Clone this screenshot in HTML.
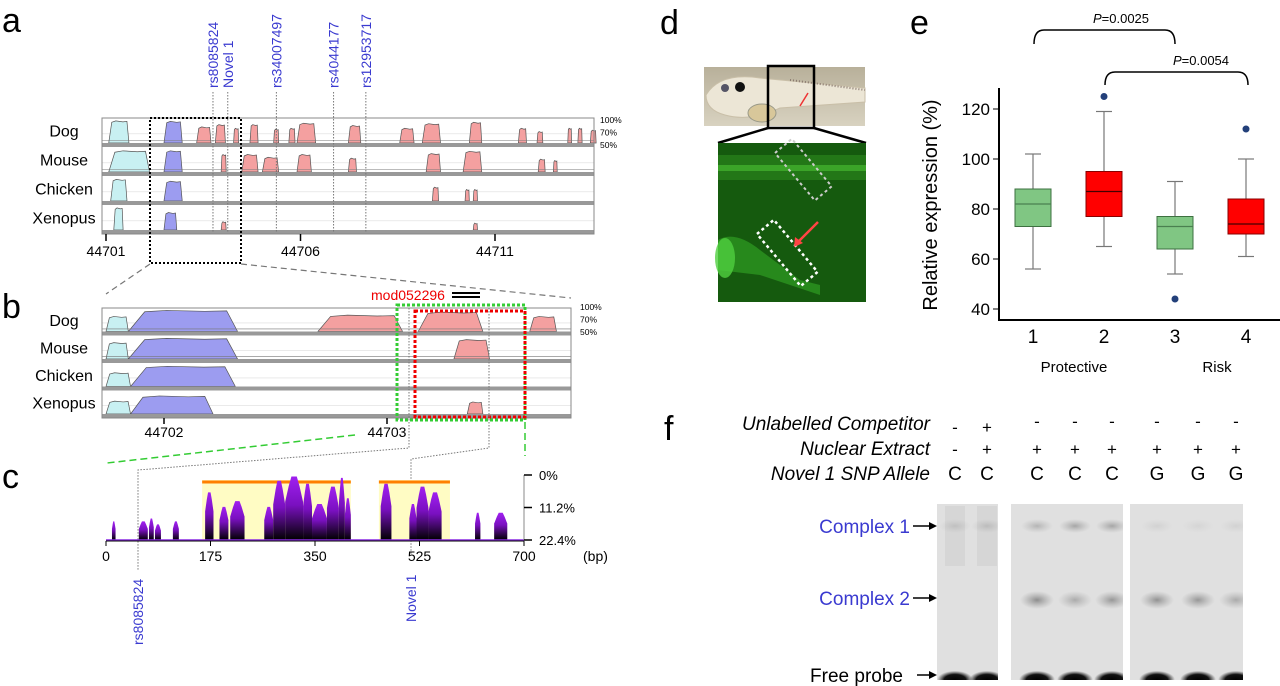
<!DOCTYPE html>
<html><head><meta charset="utf-8"><style>
html,body{margin:0;padding:0;background:#fff;width:1280px;height:686px;overflow:hidden}
svg{display:block;font-family:"Liberation Sans",Arial,sans-serif}
</style></head><body>
<svg id="fig" width="1280" height="686" viewBox="0 0 1280 686" xmlns="http://www.w3.org/2000/svg">
<defs>
<linearGradient id="pg" x1="0" y1="0" x2="0" y2="1"><stop offset="0" stop-color="#a020f0"/><stop offset="0.45" stop-color="#7a10c0"/><stop offset="1" stop-color="#000"/></linearGradient>
<radialGradient id="band" cx="0.5" cy="0.5" r="0.5"><stop offset="0" stop-color="#666" stop-opacity="0.8"/><stop offset="1" stop-color="#888" stop-opacity="0"/></radialGradient>
<radialGradient id="probe" cx="0.5" cy="0.6" r="0.5"><stop offset="0" stop-color="#000"/><stop offset="0.6" stop-color="#111"/><stop offset="1" stop-color="#333" stop-opacity="0"/></radialGradient>
<linearGradient id="fishbg" x1="0" y1="0" x2="0" y2="1"><stop offset="0" stop-color="#b8b09a"/><stop offset="1" stop-color="#d8d2c0"/></linearGradient>
<clipPath id="gelclip"><rect x="937" y="504" width="61" height="176"/><rect x="1011" y="504" width="112" height="176"/><rect x="1130" y="504" width="113" height="176"/></clipPath>
</defs>
<g id="panelA"></g>
<g id="panelB"></g>
<g id="panelC"></g>
<g id="panelD"></g>
<g id="panelE"></g>
<g id="panelF"></g>
</svg>
<script>
// ---------- DATA ----------
var rowNames = ["Dog","Mouse","Chicken","Xenopus"];
// panel a peaks: [startKb, endKb, pct, type]  type c=cyan b=blue p=pink
var aDog = [[44701.07,44701.59,98,"c"],[44702.49,44702.96,97,"b"],[44703.33,44703.70,85,"p"],[44703.81,44704.07,90,"p"],[44704.28,44704.41,82,"p"],[44704.70,44704.91,90,"p"],[44705.31,44705.44,80,"p"],[44705.70,44705.86,82,"p"],[44705.91,44706.39,93,"p"],[44707.23,44707.55,88,"p"],[44708.55,44708.92,82,"p"],[44709.13,44709.60,92,"p"],[44710.34,44710.66,95,"p"],[44711.60,44711.81,82,"p"],[44712.08,44712.23,75,"p"],[44712.87,44712.97,82,"p"],[44713.13,44713.24,82,"p"],[44713.45,44713.60,78,"p"]];
var aMouse = [[44701.07,44702.12,96,"c"],[44702.49,44702.96,96,"b"],[44703.96,44704.09,88,"p"],[44704.49,44704.91,88,"p"],[44705.02,44705.44,82,"p"],[44705.91,44706.28,88,"p"],[44707.23,44707.44,80,"p"],[44709.23,44709.60,90,"p"],[44710.18,44710.66,95,"p"],[44712.11,44712.29,78,"p"],[44712.50,44712.60,75,"p"]];
var aChicken = [[44701.12,44701.54,97,"c"],[44702.49,44702.96,93,"b"],[44709.39,44709.55,80,"p"],[44710.23,44710.34,75,"p"],[44710.44,44710.55,75,"p"]];
var aXenopus = [[44701.20,44701.44,98,"c"],[44702.49,44702.82,88,"b"],[44703.96,44704.09,68,"p"],[44710.44,44710.55,65,"p"]];
var aTicks = [44701,44706,44711];
var snpNames = ["rs8085824","Novel 1","rs34007497","rs4044177","rs12953717"];
var snpKb = [44703.75,44704.13,44705.38,44706.85,44707.68];
// panel b
var bDog = [[44701.74,44701.84,85,"c"],[44701.84,44702.33,99,"b"],[44702.69,44703.07,88,"p"],[44703.14,44703.43,95,"p"],[44703.64,44703.76,85,"p"]];
var bMouse = [[44701.74,44701.84,88,"c"],[44701.84,44702.33,98,"b"],[44703.30,44703.46,95,"p"]];
var bChicken = [[44701.74,44701.85,82,"c"],[44701.85,44702.32,97,"b"]];
var bXenopus = [[44701.74,44701.85,80,"c"],[44701.85,44702.22,92,"b"],[44703.36,44703.43,78,"p"]];
var bTicks = [44702,44703];
// panel c: [startBp, endBp, value%]  (0% top, 22.4% baseline)
var cPeaks = [[10,16,16],[55,70,16],[72,80,15],[82,92,17],[112,122,16],[166,180,6],[190,205,11],[208,232,9],[265,280,11],[280,300,2],[300,330,0.5],[330,345,3],[345,370,10],[370,390,4],[390,400,1],[400,410,8],[460,478,3],[508,520,10],[520,540,4],[540,562,6],[618,627,13],[650,672,13]];
var cYellow = [[161,410],[457,576]];
var cTicks = [0,175,350,525,700];
var cPctTicks = ["0%","11.2%","22.4%"];
// panel e box plot
var eCats = ["1","2","3","4"];
var eMin = [56,65,54,61];
var eQ1 = [73,77,64,70];
var eMed = [82,87,73,74];
var eQ3 = [88,95,77,84];
var eMax = [102,119,91,100];
var eOut = [null,125,44,112];
var eTicks = [40,60,80,100,120];
// panel f
var fComp = ["-","+","-","-","-","-","-","-"];
var fNuc = ["-","+","+","+","+","+","+","+"];
var fAllele = ["C","C","C","C","C","G","G","G"];
var fC1 = [0.25,0.3,0.45,0.6,0.6,0.15,0.12,0.15];
var fC2 = [0.0,0.0,0.85,0.55,0.75,0.8,0.75,0.55];

// ---------- helpers ----------
var NS="http://www.w3.org/2000/svg";
function mk(tag,attrs,parent,txt){var e=document.createElementNS(NS,tag);for(var k in attrs)e.setAttribute(k,attrs[k]);if(txt!==undefined)e.textContent=txt;parent.appendChild(e);return e;}
var colors={c:"#c8f0f2",b:"#9c9cf0",p:"#f4a0a0"};

function trackRows(g,rows,x0,x1,top,rowH,kbScale,kbData){
  for(var r=0;r<rows.length;r++){
    var yTop=top+r*rowH, yBase=yTop+rowH-4;
    var yp=function(p){return yBase-(p-50)/50*(rowH-6);};
    mk("line",{x1:x0,x2:x1,y1:yp(70),y2:yp(70),stroke:"#ddd","stroke-width":0.6},g);
    var dat=kbData[r];
    for(var i=0;i<dat.length;i++){
      var d=dat[i];var xa=kbScale(d[0]),xb=kbScale(d[1]);var w=xb-xa;
      var pts=[xa+","+yBase,(xa+w*0.15)+","+yp(d[2]-3),(xa+w*0.35)+","+yp(d[2]),(xa+w*0.7)+","+yp(d[2]-2),(xb-w*0.1)+","+yp(d[2]-1),xb+","+yBase];
      var pg=mk("polygon",{points:pts.join(" "),fill:colors[d[3]],stroke:"#555","stroke-width":0.7},g);
      
      
    }
    if(r<2){
      mk("line",{x1:x0,x2:x1,y1:yp(56),y2:yp(56),stroke:"#777","stroke-width":0.6},g);
    }
    var bar=mk("rect",{x:x0,y:yBase,width:x1-x0,height:4,fill:"#999"},g);
    
    
    var lb=mk("text",{x:x0-38,y:yTop+rowH/2+4,"font-size":16,"text-anchor":"middle",fill:"#000"},g,rows[r]);
    
    
  }
  mk("rect",{x:x0,y:top,width:x1-x0,height:rows.length*rowH,fill:"none",stroke:"#888","stroke-width":1},g);
}

// ---------- Panel A ----------
(function(){
var g=document.getElementById("panelA");
mk("text",{x:2,y:32,"font-size":34,fill:"#000"},g,"a");
var x0=102,x1=594,top=118,rowH=29;
var ka=function(k){return 106+(k-44701)*38.9;};
trackRows(g,rowNames,x0,x1,top,rowH,ka,[aDog,aMouse,aChicken,aXenopus]);
["100%","70%","50%"].forEach(function(t,i){mk("text",{x:600,y:123+i*12.5,"font-size":8.5,fill:"#000"},g,t);});
aTicks.forEach(function(t){mk("line",{x1:ka(t),x2:ka(t),y1:234,y2:241,stroke:"#000","stroke-width":1.5},g);
  var tx=mk("text",{x:ka(t),y:256,"font-size":14,"text-anchor":"middle"},g,String(t));
  });
for(var i=0;i<snpNames.length;i++){
  var x=ka(snpKb[i]);
  mk("line",{x1:x,x2:x,y1:92,y2:233,stroke:"#777","stroke-width":1,"stroke-dasharray":"1.5,1.5"},g);
  var t=mk("text",{x:0,y:0,transform:"translate("+(x+5)+",88) rotate(-90)","font-size":14,fill:"#3a3ad0"},g,snpNames[i]);
  
}
mk("rect",{x:150,y:118,width:91,height:145,fill:"none",stroke:"#000","stroke-width":2,"stroke-dasharray":"2,2"},g);
mk("line",{x1:150,y1:264,x2:106,y2:294,stroke:"#777","stroke-width":1.2,"stroke-dasharray":"6,4"},g);
mk("line",{x1:241,y1:264,x2:571,y2:298,stroke:"#777","stroke-width":1.2,"stroke-dasharray":"6,4"},g);
})();

// ---------- Panel B ----------
(function(){
var g=document.getElementById("panelB");
mk("text",{x:2,y:318,"font-size":34},g,"b");
var x0=102,x1=571,top=308,rowH=27.5;
var kb=function(k){return 164+(k-44702)*223;};
trackRows(g,rowNames,x0,x1,top,rowH,kb,[bDog,bMouse,bChicken,bXenopus]);
["100%","70%","50%"].forEach(function(t,i){mk("text",{x:580,y:310+i*12.5,"font-size":8.5},g,t);});
bTicks.forEach(function(t){mk("line",{x1:kb(t),x2:kb(t),y1:418,y2:424,stroke:"#000","stroke-width":1.5},g);
  var tx=mk("text",{x:kb(t),y:437,"font-size":14,"text-anchor":"middle"},g,String(t));
  });
mk("rect",{x:397,y:305,width:128,height:115,fill:"none",stroke:"#3c3","stroke-width":3,"stroke-dasharray":"3,2"},g);
mk("rect",{x:415,y:311,width:110,height:106,fill:"none",stroke:"#e00","stroke-width":3,"stroke-dasharray":"3,2"},g);
mk("text",{x:371,y:300,"font-size":14,fill:"#e00"},g,"mod052296");
mk("line",{x1:452,x2:480,y1:293,y2:293,stroke:"#000","stroke-width":2},g);
mk("line",{x1:452,x2:480,y1:297,y2:297,stroke:"#000","stroke-width":2},g);
mk("polyline",{points:"409,308 409,448 138,470 138,570",fill:"none",stroke:"#777","stroke-width":1,"stroke-dasharray":"1.5,1.5"},g);
mk("polyline",{points:"489,308 489,448 411,459 411,555",fill:"none",stroke:"#777","stroke-width":1,"stroke-dasharray":"1.5,1.5"},g);
mk("line",{x1:355,y1:435,x2:107,y2:463,stroke:"#3c3","stroke-width":1.5,"stroke-dasharray":"7,4"},g);
mk("line",{x1:525,y1:422,x2:525,y2:456,stroke:"#3c3","stroke-width":1.5,"stroke-dasharray":"7,4"},g);
})();

// ---------- Panel C ----------
(function(){
var g=document.getElementById("panelC");
mk("text",{x:2,y:488,"font-size":34},g,"c");
var xs=function(bp){return 106+bp*(418/700);};
var ys=function(v){return 475+v/22.4*65;};
cYellow.forEach(function(r){
  var y=mk("rect",{x:xs(r[0]),y:480,width:xs(r[1])-xs(r[0]),height:60,fill:"#fffcc4"},g);
  
  var o=mk("rect",{x:xs(r[0]),y:480.5,width:xs(r[1])-xs(r[0]),height:3,fill:"#ff8000"},g);
  
});
cPeaks.forEach(function(p){
  var xa=xs(p[0]),xb=xs(p[1]),w=xb-xa,yt=ys(p[2]);
  var pts=[xa+",540",xa+","+(yt+(540-yt)*0.4),(xa+w*0.2)+","+(yt+(540-yt)*0.15),(xa+w*0.35)+","+yt,(xb-w*0.35)+","+yt,(xb-w*0.2)+","+(yt+(540-yt)*0.15),xb+","+(yt+(540-yt)*0.4),xb+",540"];
  var pg=mk("polygon",{points:pts.join(" "),fill:"url(#pg)"},g);
  
});
mk("line",{x1:106,x2:524,y1:540,y2:540,stroke:"#8a2be2","stroke-width":1.5},g);
mk("line",{x1:106,x2:524,y1:541,y2:541,stroke:"#000","stroke-width":1},g);
cTicks.forEach(function(t){mk("line",{x1:xs(t),x2:xs(t),y1:541,y2:546,stroke:"#000"},g);
  var tx=mk("text",{x:xs(t),y:561,"font-size":14,"text-anchor":"middle"},g,String(t));
  });
mk("text",{x:583,y:561,"font-size":14},g,"(bp)");
mk("line",{x1:524,x2:524,y1:475,y2:540,stroke:"#888","stroke-width":1},g);
cPctTicks.forEach(function(t,i){var y=475+i*32.5;mk("line",{x1:524,x2:532,y1:y,y2:y,stroke:"#000","stroke-width":1.5},g);
  mk("text",{x:539,y:y+5,"font-size":13},g,t);});
var r1=mk("text",{x:0,y:0,transform:"translate(143,645) rotate(-90)","font-size":14,fill:"#3a3ad0"},g,"rs8085824");

var r2=mk("text",{x:0,y:0,transform:"translate(416,622) rotate(-90)","font-size":14,fill:"#3a3ad0"},g,"Novel 1");

})();

// ---------- Panel D ----------
(function(){
var g=document.getElementById("panelD");
mk("text",{x:660,y:34,"font-size":34},g,"d");
mk("rect",{x:704,y:67,width:161,height:59,fill:"url(#fishbg)"},g);
mk("path",{d:"M706,95 Q720,72 760,78 L865,88 L865,102 L780,108 Q750,122 725,115 Q706,110 706,95Z",fill:"#ece6d6",stroke:"#c9bfa8"},g);
mk("circle",{cx:740,cy:87,r:5,fill:"#111"},g);
mk("circle",{cx:725,cy:88,r:4,fill:"#556"},g);
mk("ellipse",{cx:762,cy:113,rx:14,ry:9,fill:"#d8c79a",stroke:"#998"},g);
mk("line",{x1:790,y1:80,x2:865,y2:90,stroke:"#8a7a70","stroke-width":2,"stroke-dasharray":"1,2"},g);
mk("rect",{x:768,y:66,width:46,height:62,fill:"none",stroke:"#000","stroke-width":2.5},g);
mk("line",{x1:808,y1:93,x2:800,y2:106,stroke:"#e33","stroke-width":1.5},g);
mk("polyline",{points:"768,128 718,143",fill:"none",stroke:"#000","stroke-width":2.5},g);
mk("polyline",{points:"814,128 866,143",fill:"none",stroke:"#000","stroke-width":2.5},g);
mk("rect",{x:718,y:143,width:148,height:159,fill:"#155a0e"},g);
mk("rect",{x:718,y:155,width:148,height:25,fill:"#2d8a1e",opacity:0.6},g);
mk("rect",{x:718,y:165,width:148,height:6,fill:"#46b830",opacity:0.7},g);
mk("path",{d:"M718,240 Q735,230 760,250 L800,280 L820,285 L820,295 L760,275 L718,270Z",fill:"#2e9a22",opacity:0.75},g);
mk("ellipse",{cx:725,cy:258,rx:10,ry:20,fill:"#50d040",opacity:0.8},g);
mk("rect",{x:0,y:0,width:22,height:62,transform:"translate(775,153) rotate(-40)",fill:"none",stroke:"#ccc","stroke-width":2,"stroke-dasharray":"3,3"},g);
mk("rect",{x:0,y:0,width:22,height:68,transform:"translate(757,234) rotate(-40)",fill:"none",stroke:"#fff","stroke-width":2.5,"stroke-dasharray":"3,3"},g);
mk("line",{x1:818,y1:222,x2:797,y2:243,stroke:"#f44","stroke-width":2.5},g);
mk("polygon",{points:"794,247 795,237 803,243",fill:"#f44"},g);
})();

// ---------- Panel E ----------
(function(){
var g=document.getElementById("panelE");
mk("text",{x:910,y:34,"font-size":34},g,"e");
var yv=function(v){return 309-(v-40)*2.5;};
var xc=function(i){return 1033+i*71;};
var bw=36;
mk("line",{x1:999,x2:999,y1:88,y2:321,stroke:"#000","stroke-width":2},g);
mk("line",{x1:999,x2:1280,y1:320,y2:320,stroke:"#000","stroke-width":2},g);
eTicks.forEach(function(t){mk("line",{x1:993,x2:999,y1:yv(t),y2:yv(t),stroke:"#000"},g);
  var tx=mk("text",{x:990,y:yv(t)+6,"font-size":17,"text-anchor":"end"},g,String(t));
  });
var yt=mk("text",{x:0,y:0,transform:"translate(937,205) rotate(-90)","font-size":20,"text-anchor":"middle"},g,"Relative expression (%)");

for(var i=0;i<eCats.length;i++){
  var x=xc(i),red=(i%2==1);
  var fill=red?"#ff0000":"#80c683",st=red?"#8a0000":"#3d7040";
  mk("line",{x1:x,x2:x,y1:yv(eMax[i]),y2:yv(eMin[i]),stroke:"#777","stroke-width":1.2},g);
  mk("line",{x1:x-8,x2:x+8,y1:yv(eMax[i]),y2:yv(eMax[i]),stroke:"#777","stroke-width":1.2},g);
  mk("line",{x1:x-8,x2:x+8,y1:yv(eMin[i]),y2:yv(eMin[i]),stroke:"#777","stroke-width":1.2},g);
  var b=mk("rect",{x:x-bw/2,y:yv(eQ3[i]),width:bw,height:yv(eQ1[i])-yv(eQ3[i]),fill:fill,stroke:st,"stroke-width":1},g);
  
  mk("line",{x1:x-bw/2,x2:x+bw/2,y1:yv(eMed[i]),y2:yv(eMed[i]),stroke:red?"#400":"#4a8050","stroke-width":1.3},g);
  if(eOut[i]!==null){var o=mk("circle",{cx:x,cy:yv(eOut[i]),r:3.5,fill:"#23407a"},g);
    }
  var lt=mk("text",{x:x,y:343,"font-size":19,"text-anchor":"middle"},g,eCats[i]);
  
}
mk("text",{x:1074,y:372,"font-size":15,"text-anchor":"middle"},g,"Protective");
mk("text",{x:1217,y:372,"font-size":15,"text-anchor":"middle"},g,"Risk");
mk("path",{d:"M1034,44 Q1034,30 1044,30 L1165,30 Q1175,30 1175,44",fill:"none",stroke:"#000","stroke-width":1.5},g);
mk("path",{d:"M1105,85 Q1105,72 1115,72 L1238,72 Q1248,72 1248,85",fill:"none",stroke:"#000","stroke-width":1.5},g);
var p1=mk("text",{x:1121,y:23,"font-size":13,"text-anchor":"middle"},g);
mk("tspan",{"font-style":"italic"},p1,"P");mk("tspan",{},p1,"=0.0025");
var p2=mk("text",{x:1201,y:65,"font-size":13,"text-anchor":"middle"},g);
mk("tspan",{"font-style":"italic"},p2,"P");mk("tspan",{},p2,"=0.0054");
})();

// ---------- Panel F ----------
(function(){
var g=document.getElementById("panelF");
mk("text",{x:664,y:440,"font-size":34},g,"f");
var labs=["Unlabelled Competitor","Nuclear Extract","Novel 1 SNP Allele"],ly=[430,455,480];
labs.forEach(function(t,i){var e=mk("text",{x:930,y:ly[i],"font-size":19,"font-style":"italic","text-anchor":"end"},g,t);
  });
var lanes=[955,987,1037,1075,1112,1157,1198,1236];
var panels=[[937,998],[1011,1123],[1130,1243]];
panels.forEach(function(p){var r=mk("rect",{x:p[0],y:504,width:p[1]-p[0],height:176,fill:"#e0e0e0"},g);
  });
var gg=mk("g",{"clip-path":"url(#gelclip)"},g);
for(var i=0;i<lanes.length;i++){
  var x=lanes[i];
  mk("text",{x:x,y:ly[0]+(i<2?3:-3),"font-size":17,"text-anchor":"middle"},g,fComp[i]);
  mk("text",{x:x,y:ly[1],"font-size":17,"text-anchor":"middle"},g,fNuc[i]);
  mk("text",{x:x,y:ly[2],"font-size":19,"text-anchor":"middle"},g,fAllele[i]);
  if(i<2) mk("rect",{x:x-10,y:506,width:20,height:60,fill:"#ccc",opacity:0.5},gg);
  var b1=mk("ellipse",{cx:x,cy:526,rx:16,ry:7,fill:"url(#band)",opacity:fC1[i]},gg);
  
  var b2=mk("ellipse",{cx:x,cy:600,rx:17,ry:9,fill:"url(#band)",opacity:fC2[i]},gg);
  
  var fp=mk("ellipse",{cx:x,cy:678,rx:18,ry:9,fill:"url(#probe)"},gg);
  
}
var arrows=[["Complex 1",526,"#3a3ad0"],["Complex 2",598,"#3a3ad0"],["Free probe",675,"#000"]];
arrows.forEach(function(a){
  mk("text",{x:a[0]=="Free probe"?903:910,y:a[1]+7,"font-size":19,"text-anchor":"end",fill:a[2]},g,a[0]);
  mk("line",{x1:a[0]=="Free probe"?917:913,x2:934,y1:a[1],y2:a[1],stroke:"#000","stroke-width":1.5},g);
  mk("polygon",{points:"937,"+a[1]+" 929,"+(a[1]-4)+" 929,"+(a[1]+4),fill:"#000"},g);
});
})();
</script>
</body></html>
